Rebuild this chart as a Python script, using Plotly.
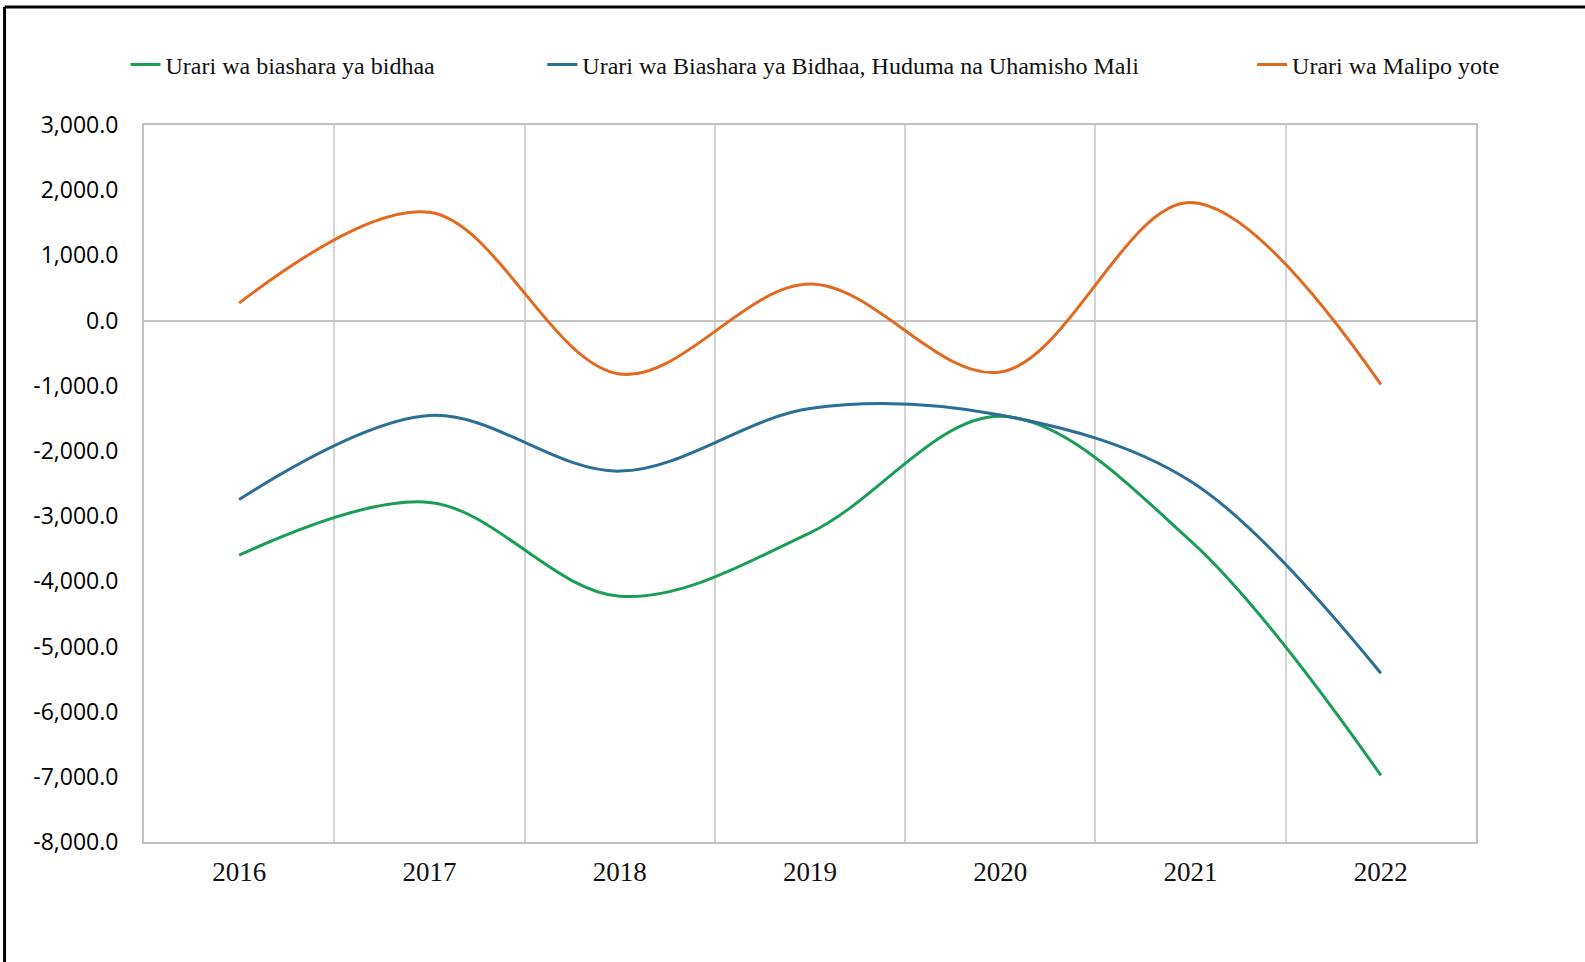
import plotly.graph_objects as go

years = ["2016", "2017", "2018", "2019", "2020", "2021", "2022"]
goods_balance = [-3600, -2790, -4230, -3256, -1470, -3380, -6977]
goods_services_transfers = [-2744, -1457, -2310, -1350, -1450, -2465, -5410]
overall_balance = [267, 1660, -820, 560, -790, 1810, -980]

y_ticks = [3000, 2000, 1000, 0, -1000, -2000, -3000, -4000, -5000, -6000, -7000, -8000]
y_tick_labels = [f"{v:,.1f}" for v in y_ticks]

names = [
    "Urari wa biashara ya bidhaa",
    "Urari wa Biashara ya Bidhaa, Huduma na Uhamisho Mali",
    "Urari wa Malipo yote",
]
colors = ["#1a9e55", "#2b6e96", "#e2691e"]

W, H = 1585, 962
L, R, T, B = 143.5, 109, 125, 120
pw, ph = W - L - R, H - T - B


def px_x(p):
    return (p - L) / pw


def px_y(p):
    return (H - B - p) / ph


fig = go.Figure()
series = [goods_balance, goods_services_transfers, overall_balance]
legend_ids = ["legend", "legend2", "legend3"]
for vals, name, col, lg in zip(series, names, colors, legend_ids):
    fig.add_trace(go.Scatter(
        x=years, y=vals, name=name, mode="lines",
        line=dict(color=col, width=3, shape="spline", smoothing=1.0),
        legend=lg,
    ))

legend_text_x = [167, 584, 1294]
legend_common = dict(
    orientation="h", xanchor="left", yanchor="middle",
    font=dict(family="Liberation Serif", size=24, color="#111"),
    bgcolor="rgba(0,0,0,0)", borderwidth=0,
)
layout_legends = {}
for lg, tx in zip(legend_ids, legend_text_x):
    layout_legends[lg] = dict(legend_common, x=px_x(tx - 42), y=px_y(65))

fig.update_layout(
    width=W, height=H,
    margin=dict(l=L, r=R, t=T, b=B, autoexpand=False),
    paper_bgcolor="white", plot_bgcolor="white",
    showlegend=True,
    **layout_legends,
    xaxis=dict(
        type="category", range=[-0.5, 6.5],
        tickson="boundaries", showgrid=True, gridcolor="#d4d4d4", gridwidth=1.5,
        showline=True, linecolor="#bfbfbf", linewidth=2, mirror=True,
        ticks="", ticklabelstandoff=5,
        tickfont=dict(family="Liberation Serif", size=27, color="#111"),
    ),
    yaxis=dict(
        range=[-8000, 3000], tickvals=y_ticks, ticktext=y_tick_labels,
        showgrid=False, zeroline=True, zerolinecolor="#c4c4c4", zerolinewidth=2,
        showline=True, linecolor="#bfbfbf", linewidth=2, mirror=True,
        ticks="", ticklabelstandoff=19,
        tickfont=dict(family="Open Sans", size=23, color="#000"),
    ),
    shapes=[
        dict(type="line", xref="paper", yref="paper",
             x0=px_x(4), x1=px_x(1590), y0=px_y(7), y1=px_y(7),
             line=dict(color="black", width=3)),
        dict(type="line", xref="paper", yref="paper",
             x0=px_x(4), x1=px_x(4), y0=px_y(7), y1=px_y(965),
             line=dict(color="black", width=3)),
    ],
)

fig.write_html("out.html", config={"displayModeBar": False},
               post_script="document.body.style.margin='0px';")
